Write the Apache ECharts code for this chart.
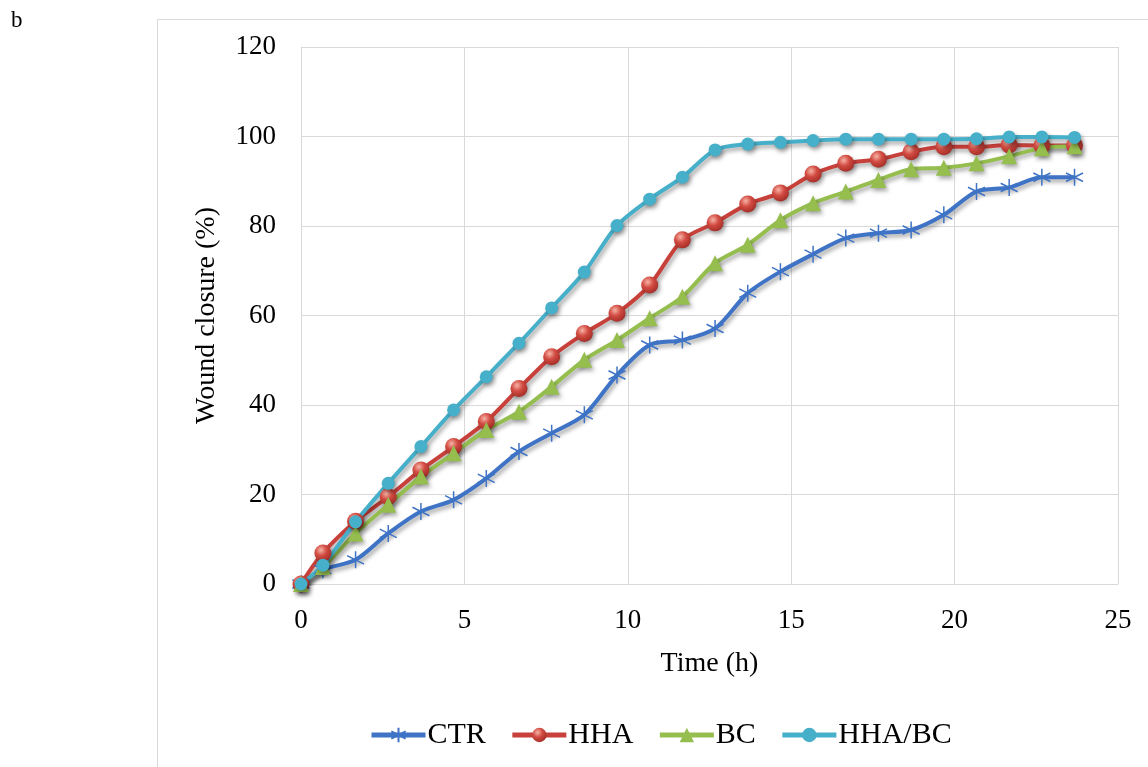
<!DOCTYPE html>
<html>
<head>
<meta charset="utf-8">
<script src="https://cdn.jsdelivr.net/npm/echarts@6/dist/echarts.min.js"></script>
<style>
html,body{margin:0;padding:0;background:#fff;}
#chart{width:1148px;height:767px;}
</style>
</head>
<body>
<div id="chart"></div>
<script>
// Data (time in hours, wound closure in %)
var timeH = [0, 0.67, 1.67, 2.67, 3.67, 4.67, 5.67, 6.67, 7.67, 8.67, 9.67, 10.67, 11.67, 12.67, 13.67, 14.67, 15.67, 16.67, 17.67, 18.67, 19.67, 20.67, 21.67, 22.67, 23.67];
var ctr   = [0, 3.2, 5.4, 11.3, 16.2, 18.8, 23.6, 29.6, 33.7, 37.8, 46.7, 53.4, 54.5, 57.1, 65.0, 69.8, 73.7, 77.3, 78.4, 79.1, 82.5, 87.7, 88.6, 90.9, 90.9];
var hha   = [0, 6.9, 14.0, 19.5, 25.5, 30.7, 36.3, 43.7, 50.8, 56.0, 60.5, 66.8, 76.9, 80.7, 84.9, 87.4, 91.6, 94.0, 94.9, 96.6, 97.7, 97.7, 98.1, 98.0, 98.0];
var bc    = [0, 3.8, 11.3, 17.7, 24.0, 29.2, 34.4, 38.5, 44.1, 50.1, 54.5, 59.4, 64.2, 71.7, 75.8, 81.3, 85.1, 87.7, 90.3, 92.7, 93.0, 94.0, 95.6, 97.4, 97.8];
var hhabc = [0, 4.2, 13.9, 22.5, 30.7, 38.9, 46.3, 53.8, 61.7, 69.7, 80.1, 86.0, 90.9, 97.0, 98.3, 98.7, 99.1, 99.4, 99.4, 99.4, 99.4, 99.5, 99.9, 99.9, 99.8];
var seriesNames = ['CTR', 'HHA', 'BC', 'HHA/BC'];
var xTicks = [0, 5, 10, 15, 20, 25];
var yTicks = [0, 20, 40, 60, 80, 100, 120];

function pairs(vals) { return timeH.map(function (t, i) { return [t, vals[i]]; }); }

var FONT = '"Liberation Serif", "DejaVu Serif", serif';
var shadow = { shadowColor: 'rgba(0,0,0,0.35)', shadowBlur: 4, shadowOffsetX: 2, shadowOffsetY: 3 };

var chart = echarts.init(document.getElementById('chart'), null, { renderer: 'canvas' });

var asterisk = 'path://M0,-10L0,10M-8.66,-5L8.66,5M-8.66,5L8.66,-5';

chart.setOption({
  backgroundColor: '#ffffff',
  animation: false,
  title: {
    text: 'b', left: 6, top: 4,
    textStyle: { fontFamily: FONT, fontSize: 23, fontWeight: 'normal', color: '#000' }
  },
  graphic: [
    { type: 'line', shape: { x1: 157.5, y1: 19.5, x2: 1148, y2: 19.5 }, style: { stroke: '#d9d9d9', lineWidth: 1 } },
    { type: 'line', shape: { x1: 157.5, y1: 19.5, x2: 157.5, y2: 767 }, style: { stroke: '#d9d9d9', lineWidth: 1 } }
  ],
  grid: { left: 301, right: 30, top: 47, bottom: 183, containLabel: false },
  legend: {
    data: seriesNames,
    left: 364,
    top: 715,
    itemWidth: 54,
    itemHeight: 18,
    itemGap: 24,
    lineStyle: { width: 5 },
    textStyle: { fontFamily: FONT, fontSize: 30, color: '#000', padding: [0, 0, 0, -3] }
  },
  xAxis: {
    type: 'value', min: xTicks[0], max: xTicks[xTicks.length - 1], interval: 5,
    name: 'Time (h)', nameLocation: 'middle', nameGap: 66,
    nameTextStyle: { fontFamily: FONT, fontSize: 28, color: '#000' },
    axisLine: { show: true, lineStyle: { color: '#d9d9d9', width: 1 } },
    axisTick: { show: false },
    axisLabel: { fontFamily: FONT, fontSize: 27, color: '#000', margin: 23 },
    splitLine: { show: true, lineStyle: { color: '#d9d9d9', width: 1 } }
  },
  yAxis: {
    type: 'value', min: yTicks[0], max: yTicks[yTicks.length - 1], interval: 20,
    name: 'Wound closure (%)', nameLocation: 'middle', nameGap: 80, nameRotate: 90,
    nameTextStyle: { fontFamily: FONT, fontSize: 28, color: '#000' },
    axisLine: { show: true, lineStyle: { color: '#d9d9d9', width: 1 } },
    axisTick: { show: false },
    axisLabel: { fontFamily: FONT, fontSize: 27, color: '#000', margin: 25 },
    splitLine: { show: true, lineStyle: { color: '#d9d9d9', width: 1 } }
  },
  series: [
    {
      name: 'CTR', type: 'line', smooth: 0.3, data: pairs(ctr),
      symbol: asterisk, symbolSize: 17,
      lineStyle: Object.assign({ color: '#3E73C5', width: 4 }, shadow),
      itemStyle: { color: '#3E73C5', borderColor: '#3E73C5', borderWidth: 1.5 }
    },
    {
      name: 'HHA', type: 'line', smooth: 0.3, data: pairs(hha),
      symbol: 'circle', symbolSize: 17,
      lineStyle: Object.assign({ color: '#C8403A', width: 4 }, shadow),
      itemStyle: Object.assign({
        color: { type: 'radial', x: 0.38, y: 0.32, r: 0.75, colorStops: [
          { offset: 0, color: '#F7B3A6' }, { offset: 0.45, color: '#D24B42' }, { offset: 1, color: '#9E2A24' }] }
      }, shadow)
    },
    {
      name: 'BC', type: 'line', smooth: 0.3, data: pairs(bc),
      symbol: 'triangle', symbolSize: 16,
      lineStyle: Object.assign({ color: '#95BE4F', width: 4 }, shadow),
      itemStyle: Object.assign({ color: '#95BE4F' }, shadow)
    },
    {
      name: 'HHA/BC', type: 'line', smooth: 0.3, data: pairs(hhabc),
      symbol: 'circle', symbolSize: 13,
      lineStyle: Object.assign({ color: '#46AFC9', width: 4 }, shadow),
      itemStyle: Object.assign({ color: '#46AFC9' }, shadow)
    }
  ]
});
</script>
</body>
</html>
